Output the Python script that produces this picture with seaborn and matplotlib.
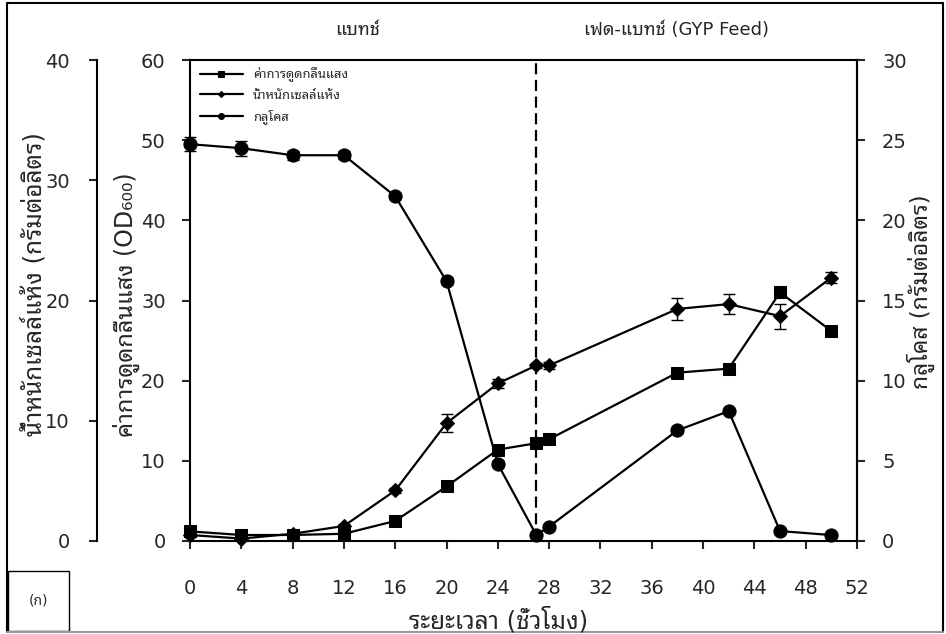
import matplotlib
matplotlib.use("Agg")
import matplotlib.pyplot as plt
import numpy as np
import pandas as pd
import seaborn as sns
from matplotlib import font_manager
from matplotlib.lines import Line2D
from matplotlib.patches import Rectangle

# ---------------- data ----------------
hours = [0, 4, 8, 12, 16, 20, 24, 27, 28, 38, 42, 46, 50]
od600 = [1.2, 0.75, 0.75, 0.9, 2.5, 6.8, 11.4, 12.2, 12.7, 21.0, 21.5, 31.0, 26.2]
od600_err = [0.3, 0.2, 0.2, 0.2, 0.3, 0.3, 0.3, 0.3, 0.3, 0.3, 0.3, 0.4, 0.3]
dcw = [0.5, 0.2, 0.6, 1.25, 4.2, 9.8, 13.1, 14.6, 14.6, 19.3, 19.7, 18.7, 21.9]
dcw_err = [0.15, 0.1, 0.1, 0.2, 0.2, 0.72, 0.4, 0.2, 0.3, 0.92, 0.83, 1.04, 0.48]
glucose = [24.75, 24.5, 24.06, 24.06, 21.5, 16.2, 4.8, 0.37, 0.9, 6.9, 8.1, 0.62, 0.37]
glucose_err = [0.45, 0.46, 0.28, 0.25, 0.2, 0.2, 0.2, 0.1, 0.1, 0.15, 0.1, 0.1, 0.1]

x_ticks = list(range(0, 53, 4))
od_ticks = [0, 10, 20, 30, 40, 50, 60]
dcw_ticks = [0, 10, 20, 30, 40]
glc_ticks = [0, 5, 10, 15, 20, 25, 30]

legend_labels = ["ค่าการดูดกลืนแสง", "น้ำหนักเซลล์แห้ง", "กลูโคส"]
phase_labels = ["แบทช์", "เฟด-แบทช์ (GYP Feed)"]
phase_x = [13.1, 37.9]
feed_start = 27
xlabel = "ระยะเวลา (ชั่วโมง)"
od_label = "ค่าการดูดกลืนแสง (OD₆₀₀)"
dcw_label = "น้ำหนักเซลล์แห้ง (กรัมต่อลิตร)"
glc_label = "กลูโคส (กรัมต่อลิตร)"
panel_label = "(ก)"

df = pd.DataFrame({"hours": hours, "od600": od600, "dcw": dcw, "glucose": glucose})

# ---------------- style ----------------
sns.set_style("ticks")
names = {f.name for f in font_manager.fontManager.ttflist}
thai = next((n for n in ["Noto Sans Thai Looped", "Noto Sans Thai", "Noto Sans Thai UI",
                         "Sarabun", "Anuphan"] if n in names), "DejaVu Sans")
plt.rcParams["font.family"] = ["DejaVu Sans", thai]
plt.rcParams["axes.linewidth"] = 1.5

W, H = 946, 634
def px(x, y):
    return x / W, 1 - y / H

fig = plt.figure(figsize=(W / 100, H / 100), dpi=100)
L, R, T, B = 190, 857, 60, 541
ax = fig.add_axes([L / W, 1 - B / H, (R - L) / W, (B - T) / H])
ax_g = ax.twinx()
ax_d = ax.twinx()

line_kw = dict(color="black", linewidth=1.6, markeredgecolor="black", clip_on=False)
err_kw = dict(fmt="none", ecolor="black", elinewidth=1.0, capsize=4.5, capthick=1.0, clip_on=False)

sns.lineplot(data=df, x="hours", y="od600", ax=ax, marker="s", markersize=8.5,
             label=legend_labels[0], **line_kw)
ax.errorbar(hours, od600, yerr=od600_err, **err_kw)

sns.lineplot(data=df, x="hours", y="dcw", ax=ax_d, marker="D", markersize=7,
             label=legend_labels[1], **line_kw)
ax_d.errorbar(hours, dcw, yerr=dcw_err, **err_kw)

sns.lineplot(data=df, x="hours", y="glucose", ax=ax_g, marker="o", markersize=9.5,
             label=legend_labels[2], **line_kw)
ax_g.errorbar(hours, glucose, yerr=glucose_err, **err_kw)

ax.axvline(feed_start, color="black", lw=1.6, ls=(0, (5, 2.5)))

# ---------------- axes ----------------
ax.set_xlim(0, 52)
ax.set_ylim(0, 60)
ax_g.set_ylim(0, 30)
ax_d.set_ylim(0, 40)
ax.set_xticks(x_ticks)
ax.set_yticks(od_ticks)
ax_g.set_yticks(glc_ticks)
ax_d.set_yticks(dcw_ticks)
for a in (ax, ax_g, ax_d):
    a.set_xlabel("")
    a.set_ylabel("")
    leg = a.get_legend()
    if leg is not None:
        leg.remove()

ax.tick_params(axis="x", direction="out", length=6, width=1.5, labelsize=14, pad=21)
ax.tick_params(axis="y", direction="out", length=6, width=1.5, labelsize=14, pad=11.5)
ax_g.tick_params(axis="y", direction="out", length=6, width=1.5, labelsize=14, pad=12)
ax_d.tick_params(axis="y", direction="out", length=6, width=1.5, labelsize=14, pad=13.5)

for s in ("left", "top", "bottom"):
    ax_g.spines[s].set_visible(False)
ax_d.spines["left"].set_position(("axes", (97 - L) / (R - L)))
ax_d.yaxis.set_ticks_position("left")
ax_d.yaxis.set_label_position("left")
for s in ("right", "top", "bottom"):
    ax_d.spines[s].set_visible(False)
ax_d.patch.set_visible(False)
ax_g.patch.set_visible(False)
for a in (ax, ax_g, ax_d):
    for s in a.spines.values():
        s.set_linewidth(1.5)
        s.set_color("black")

# legend
handles = [ax.get_lines()[0], ax_d.get_lines()[0], ax_g.get_lines()[0]]
ax_d.legend(handles, legend_labels, loc="upper left",
            bbox_to_anchor=((195 - L) / (R - L), (B - 62) / (B - T)),
            frameon=False, fontsize=9.3, markerscale=0.45, handlelength=3.3,
            labelspacing=0.55, borderaxespad=0, borderpad=0.4, handletextpad=0.8)

# texts
fig.text(*px(34, 284), dcw_label, rotation=90, ha="center", va="center", fontsize=17.5)
fig.text(*px(126, 305), od_label, rotation=90, ha="center", va="center", fontsize=17)
fig.text(*px(921, 292), glc_label, rotation=90, ha="center", va="center", fontsize=16.5)
fig.text(*px(499, 620), xlabel, ha="center", va="center", fontsize=17.5)
for lab, xv in zip(phase_labels, phase_x):
    ax.text(xv, 1.062, lab, transform=ax.get_xaxis_transform(), ha="center", va="center", fontsize=13)

# frame and panel box
fig.add_artist(Line2D([7 / W, 943 / W], [1 - 3 / H] * 2, transform=fig.transFigure, color="black", lw=1.5))
fig.add_artist(Line2D([7 / W, 7 / W], [1 - 3 / H, 1 - 632 / H], transform=fig.transFigure, color="black", lw=1.5))
fig.add_artist(Line2D([943 / W, 943 / W], [1 - 3 / H, 1 - 632 / H], transform=fig.transFigure, color="black", lw=1.5))
fig.add_artist(Line2D([7 / W, 943 / W], [1 - 632 / H] * 2, transform=fig.transFigure, color="#999999", lw=1.5))
fig.add_artist(Rectangle(px(8, 631), 61 / W, 60 / H, transform=fig.transFigure,
                         fill=False, edgecolor="black", lw=1.0))
fig.text(*px(38, 601), panel_label, ha="center", va="center", fontsize=10)

fig.savefig("out.png", dpi=100)
